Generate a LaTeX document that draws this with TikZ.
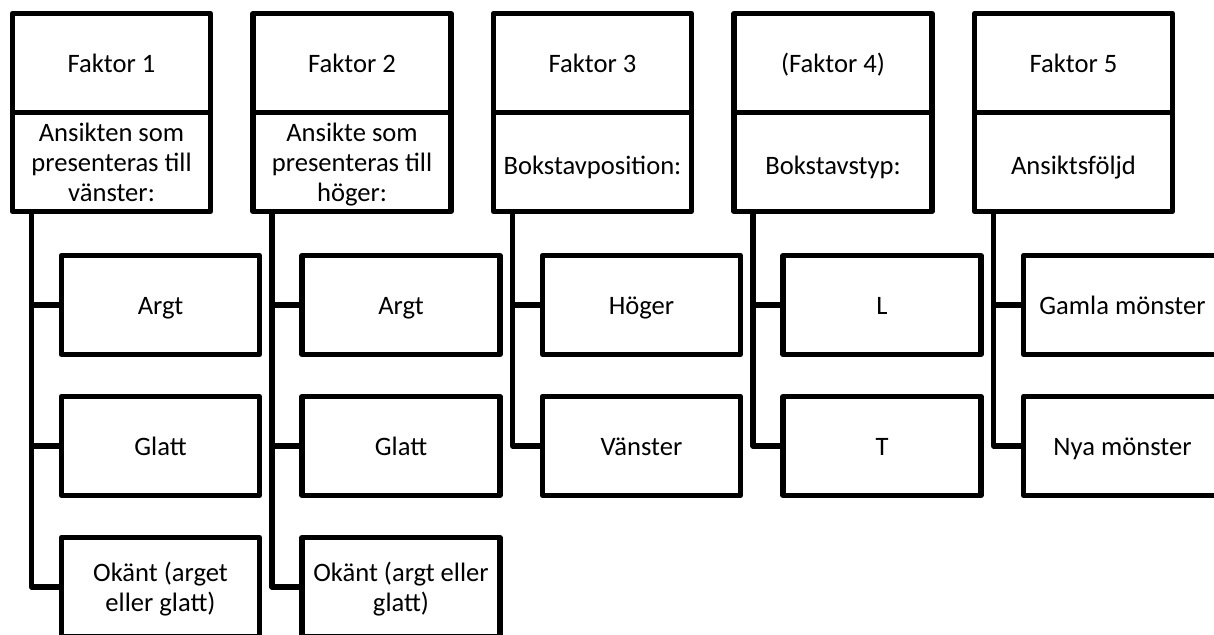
\documentclass[tikz,border=0pt]{standalone}
\usepackage{fontspec}
\setmainfont{Carlito}
\newcommand\lstr{\rule[-6pt]{0pt}{30pt}}
\newcommand\lstrlow{\rule[-1pt]{0pt}{30pt}}
\begin{document}
\begin{tikzpicture}[x=1pt,y=-1pt,
  box/.style={draw, line width=5.2pt, line join=round, minimum width=198pt, minimum height=99pt,
    inner sep=0pt, outer sep=0pt, align=center, anchor=north west,
    font=\fontsize{26.6}{30}\selectfont},
  link/.style={line width=5.2pt, line join=round}]
\useasboundingbox (0,0) rectangle (1214,634);
% column 1
\node[box] (h1a) at (12.5,13.5) {\lstr Faktor 1};
\node[box] (h1b) at (12.5,112.5) {\lstr Ansikten som\\\lstr presenteras till\\\lstr vänster:};
\node[box] (c11) at (61.5,255.5) {\lstr Argt};
\node[box] (c12) at (61.5,396.5) {\lstr Glatt};
\node[box] (c13) at (61.5,537.5) {\lstr Okänt (arget\\\lstr eller glatt)};
\coordinate (t1) at ([xshift=19pt]h1b.south west);
\draw[link] (t1) |- (c13.west);
\draw[link] (c11.west) -- (c11.west -| t1);
\draw[link] (c12.west) -- (c12.west -| t1);
% column 2
\node[box] (h2a) at (253,13.5) {\lstr Faktor 2};
\node[box] (h2b) at (253,112.5) {\lstr Ansikte som\\\lstr presenteras till\\\lstr höger:};
\node[box] (c21) at (302,255.5) {\lstr Argt};
\node[box] (c22) at (302,396.5) {\lstr Glatt};
\node[box] (c23) at (302,537.5) {\lstr Okänt (argt eller\\\lstr glatt)};
\coordinate (t2) at ([xshift=19pt]h2b.south west);
\draw[link] (t2) |- (c23.west);
\draw[link] (c21.west) -- (c21.west -| t2);
\draw[link] (c22.west) -- (c22.west -| t2);
% column 3
\node[box] (h3a) at (493.5,13.5) {\lstr Faktor 3};
\node[box] (h3b) at (493.5,112.5) {\lstrlow Bokstavposition:};
\node[box] (c31) at (542.5,255.5) {\lstr Höger};
\node[box] (c32) at (542.5,396.5) {\lstr Vänster};
\coordinate (t3) at ([xshift=19pt]h3b.south west);
\draw[link] (t3) |- (c32.west);
\draw[link] (c31.west) -- (c31.west -| t3);
% column 4
\node[box] (h4a) at (734,13.5) {\lstr (Faktor 4)};
\node[box] (h4b) at (734,112.5) {\lstrlow Bokstavstyp:};
\node[box] (c41) at (783,255.5) {\lstr L};
\node[box] (c42) at (783,396.5) {\lstr T};
\coordinate (t4) at ([xshift=19pt]h4b.south west);
\draw[link] (t4) |- (c42.west);
\draw[link] (c41.west) -- (c41.west -| t4);
% column 5
\node[box] (h5a) at (974.5,13.5) {\lstr Faktor 5};
\node[box] (h5b) at (974.5,112.5) {\lstrlow Ansiktsföljd};
\node[box] (c51) at (1023.5,255.5) {\lstr Gamla mönster};
\node[box] (c52) at (1023.5,396.5) {\lstr Nya mönster};
\coordinate (t5) at ([xshift=19pt]h5b.south west);
\draw[link] (t5) |- (c52.west);
\draw[link] (c51.west) -- (c51.west -| t5);
\end{tikzpicture}
\end{document}
